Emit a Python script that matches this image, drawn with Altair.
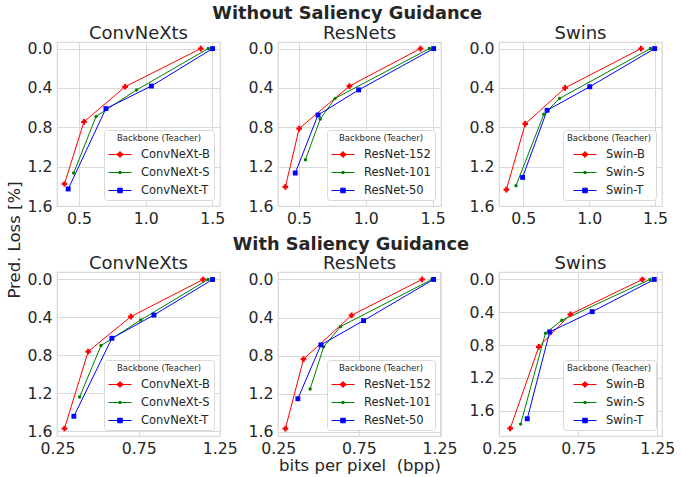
import altair as alt
import pandas as pd

# ---------------- data ----------------
conv_names = ["ConvNeXt-B", "ConvNeXt-S", "ConvNeXt-T"]
res_names = ["ResNet-152", "ResNet-101", "ResNet-50"]
swin_names = ["Swin-B", "Swin-S", "Swin-T"]

# Without saliency guidance: bits per pixel (x) and predicted loss (y)
wo_conv_x = [[1.414, 0.846, 0.537, 0.391], [1.470, 0.932, 0.628, 0.460], [1.502, 1.043, 0.702, 0.419]]
wo_conv_y = [[0.0, 0.388, 0.745, 1.376], [0.0, 0.420, 0.690, 1.265], [0.0, 0.381, 0.610, 1.427]]
wo_res_x = [[1.409, 0.878, 0.502, 0.399], [1.475, 0.771, 0.660, 0.549], [1.507, 0.947, 0.643, 0.473]]
wo_res_y = [[0.0, 0.381, 0.813, 1.406], [0.0, 0.506, 0.715, 1.130], [0.0, 0.420, 0.675, 1.265]]
wo_swin_x = [[1.394, 0.817, 0.515, 0.372], [1.465, 0.776, 0.656, 0.445], [1.497, 1.005, 0.681, 0.495]]
wo_swin_y = [[0.0, 0.400, 0.766, 1.433], [0.0, 0.506, 0.668, 1.393], [0.0, 0.388, 0.627, 1.309]]

# With saliency guidance
w_conv_x = [[1.147, 0.702, 0.439, 0.293], [1.177, 0.763, 0.518, 0.386], [1.205, 0.844, 0.585, 0.351]]
w_conv_y = [[0.0, 0.392, 0.760, 1.572], [0.0, 0.427, 0.697, 1.240], [0.0, 0.375, 0.620, 1.443]]
w_res_x = [[1.142, 0.705, 0.407, 0.295], [1.203, 0.636, 0.532, 0.448], [1.213, 0.779, 0.515, 0.372]]
w_res_y = [[0.0, 0.376, 0.836, 1.564], [0.0, 0.495, 0.707, 1.150], [0.0, 0.432, 0.686, 1.251]]
w_swin_x = [[1.156, 0.700, 0.500, 0.319], [1.204, 0.646, 0.542, 0.385], [1.231, 0.838, 0.569, 0.427]]
w_swin_y = [[0.0, 0.425, 0.822, 1.818], [0.0, 0.498, 0.656, 1.765], [0.0, 0.393, 0.640, 1.700]]

y_ticks = [0.0, 0.4, 0.8, 1.2, 1.6]
x_ticks_top = [0.5, 1.0, 1.5]
x_ticks_bottom = [0.25, 0.75, 1.25]

# ---------------- styling ----------------
TXT = "#262626"
GRID = "#d9d9d9"
colors = ["#ff0000", "#008000", "#0000ff"]
plot_shapes = ["cross", "circle", "square"]
plot_sizes = [32, 12, 24]
legend_paths = [
    "M-1,0H1M-0.22,-0.08H0.22V0.08H-0.22ZM-0.08,-0.22H0.08V0.22H-0.08Z",
    "M-1,0H1M-0.09,-0.09H0.09V0.09H-0.09Z",
    "M-1,0H1M-0.2,-0.2H0.2V0.2H-0.2ZM-0.1,-0.1H0.1V0.1H-0.1Z",
]
PW, PH = 163, 164


def to_df(names, xs, ys):
    rows = []
    for n, xl, yl in zip(names, xs, ys):
        for x, y in zip(xl, yl):
            rows.append({"series": n, "bpp": x, "loss": y})
    return pd.DataFrame(rows)


def panel(names, xs, ys, title, xdom, ydom, xvals, xfmt, xtitle=None):
    df = to_df(names, xs, ys)
    base = alt.Chart(df)
    xenc = alt.X("bpp:Q", scale=alt.Scale(domain=xdom, nice=False, zero=False),
                 axis=alt.Axis(values=xvals, format=xfmt, title=xtitle))
    yenc = alt.Y("loss:Q", scale=alt.Scale(domain=ydom, reverse=True, nice=False, zero=False),
                 axis=alt.Axis(values=y_ticks, format=".1f", title=None))
    cscale = alt.Scale(domain=names, range=colors)
    leg = alt.Legend(title="Backbone (Teacher)", orient="bottom-right", offset=6, padding=4,
                     fillColor="white", strokeColor=GRID, cornerRadius=3,
                     titleFontSize=8.5, titleFontWeight="normal", titleAnchor="middle",
                     titleColor=TXT, titlePadding=0, labelFontSize=11.5, labelColor=TXT,
                     symbolSize=529, symbolStrokeWidth=1, labelOffset=9, rowPadding=0)
    # legend-only layer (no marks drawn), first so its legend settings win
    legend_layer = base.transform_filter("datum.bpp < -10").mark_point(
        filled=False, opacity=1, strokeWidth=1).encode(
        x=xenc, y=yenc,
        color=alt.Color("series:N", scale=cscale, legend=leg),
        shape=alt.Shape("series:N", scale=alt.Scale(domain=names, range=legend_paths), legend=leg))
    lines = base.mark_line(strokeWidth=1).encode(
        x=xenc, y=yenc, color=alt.Color("series:N", scale=cscale, legend=None))
    layers = [legend_layer, lines]
    for n, shp, sz in zip(names, plot_shapes, plot_sizes):
        pts = base.transform_filter(alt.datum.series == n).mark_point(
            shape=shp, size=sz, filled=True, opacity=1).encode(
            x=xenc, y=yenc, color=alt.Color("series:N", scale=cscale, legend=None))
        layers.append(pts)
    return alt.layer(*layers).properties(
        width=PW, height=PH,
        title=alt.TitleParams(title, fontSize=18, fontWeight="normal", color=TXT, offset=-2))


top_ydom = [-0.067, 1.6]
row1 = alt.hconcat(
    panel(conv_names, wo_conv_x, wo_conv_y, "ConvNeXts", [0.335, 1.558], top_ydom, x_ticks_top, ".1f"),
    panel(res_names, wo_res_x, wo_res_y, "ResNets", [0.344, 1.562], top_ydom, x_ticks_top, ".1f"),
    panel(swin_names, wo_swin_x, wo_swin_y, "Swins", [0.316, 1.553], top_ydom, x_ticks_top, ".1f"),
    spacing=58, bounds="flush",
).resolve_scale(color="independent", shape="independent").properties(
    title=alt.TitleParams("Without Saliency Guidance", fontSize=17.8, fontWeight="bold",
                          color=TXT, anchor="middle", offset=1))

row2 = alt.hconcat(
    panel(conv_names, w_conv_x, w_conv_y, "ConvNeXts", [0.247, 1.251], [-0.079, 1.651], x_ticks_bottom, ".2f"),
    panel(res_names, w_res_x, w_res_y, "ResNets", [0.249, 1.259], [-0.078, 1.642], x_ticks_bottom, ".2f",
          xtitle="bits per pixel\u00a0\u00a0(bpp)"),
    panel(swin_names, w_swin_x, w_swin_y, "Swins", [0.248, 1.28], [-0.091, 1.91], x_ticks_bottom, ".2f"),
    spacing=58, bounds="flush",
).resolve_scale(color="independent", shape="independent").properties(
    title=alt.TitleParams("With Saliency Guidance", fontSize=17.8, fontWeight="bold",
                          color=TXT, anchor="middle", offset=1))

chart = alt.vconcat(row1, row2, spacing=9).resolve_scale(
    color="independent", shape="independent").properties(
    title=alt.TitleParams("Pred. Loss [%]", orient="left", anchor="middle", fontSize=16.5,
                          fontWeight="normal", color=TXT, offset=3),
    padding={"left": 6, "top": 5, "right": 0, "bottom": 0},
).configure(font="DejaVu Sans", background="white").configure_view(
    stroke=GRID, strokeWidth=1.25
).configure_axis(
    grid=True, gridColor=GRID, gridWidth=1, domain=False, ticks=False,
    labelFontSize=15.7, labelColor=TXT, labelPadding=5, labelFlush=False, labelOverlap=False,
    titleFontSize=16.5, titleColor=TXT, titleFontWeight="normal", titlePadding=2,
)

chart.save("out.html", embed_options={"renderer": "svg", "actions": False})
